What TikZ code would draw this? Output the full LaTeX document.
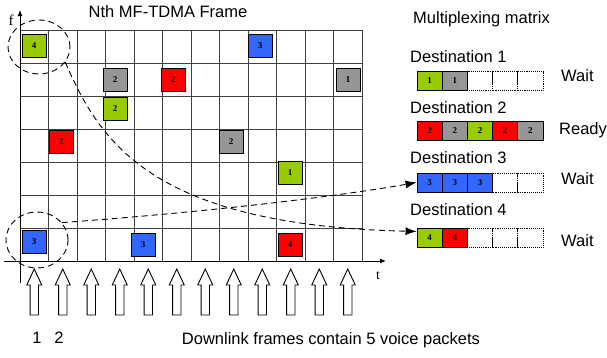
\documentclass[tikz,border=0pt]{standalone}
\usepackage{fontspec}
\setmainfont{Liberation Sans}
\newfontfamily\numfont{Liberation Serif}
\usetikzlibrary{arrows.meta,shapes.geometric}
\definecolor{pgreen}{RGB}{153,204,0}
\definecolor{pgray}{RGB}{150,150,150}
\definecolor{pred}{RGB}{255,0,0}
\definecolor{pblue}{RGB}{51,102,255}

\begin{document}
\begin{tikzpicture}[x=1pt,y=-1pt,
  pkt/.style={draw, line width=0.9pt, minimum width=24pt, minimum height=23pt, inner sep=0pt, font=\numfont\bfseries\fontsize{9}{9}\selectfont},
  buf/.style={draw, line width=0.9pt, minimum width=25.2pt, minimum height=19pt, inner sep=0pt, font=\numfont\bfseries\fontsize{9}{9}\selectfont},
  free/.style={draw, densely dotted, line width=0.9pt, minimum width=25.2pt, minimum height=19pt, inner sep=0pt},
  lbl/.style={font=\fontsize{16.5}{19}\selectfont, inner sep=0pt},
  ring/.style={draw, dash pattern=on 6pt off 4pt, ellipse, line width=0.9pt, inner sep=0pt},
  link/.style={dash pattern=on 6pt off 4pt, line width=0.9pt, -{Latex[length=11pt,width=8pt]}}]
\useasboundingbox (0,0) rectangle (607,357);

% slot grid
\foreach \i in {1,...,12}
  \draw[black!75, line width=0.8pt] ({20+28.5*\i},30) -- ({20+28.5*\i},261);
\foreach \j in {0,...,6}
  \draw[black!75, line width=0.8pt] (20,{30+33*\j}) -- (362,{30+33*\j});
\draw[line width=0.9pt, -{Latex[length=6pt,width=5pt]}] (4,261) -- (386,261);
\draw[line width=0.9pt, -{Latex[length=6pt,width=5pt]}] (20,283) -- (20,10);
\node[font=\numfont\fontsize{15}{15}\selectfont] (f) at (11,20) {f};
\node[font=\numfont\fontsize{14}{14}\selectfont] (t) at (378,276) {t};
\node[lbl] (title) at (168,12) {Nth MF-TDMA Frame};

% packets in the frame
\node[pkt, fill=pgreen] (1) at (34,46) {4};
\node[pkt, fill=pblue] (2) at (260,46) {3};
\node[pkt, fill=pgray] (3) at (115,80) {2};
\node[pkt, fill=pred] (4) at (173,80) {2};
\node[pkt, fill=pgray] (5) at (348,80) {1};
\node[pkt, fill=pgreen] (6) at (115,109) {2};
\node[pkt, fill=pred] (7) at (61,142) {2};
\node[pkt, fill=pgray] (8) at (231,142) {2};
\node[pkt, fill=pgreen] (9) at (290,173) {1};
\node[pkt, fill=pblue] (10) at (34,242) {3};
\node[pkt, fill=pblue] (11) at (143,245) {3};
\node[pkt, fill=pred] (12) at (290,245) {4};

\node[ring, minimum width=62pt, minimum height=54pt] (c1) at (39,47) {};
\node[ring, minimum width=62pt, minimum height=56pt] (c2) at (37,240) {};

% multiplexing matrix
\node[lbl, anchor=west] (mux) at (413,19) {Multiplexing matrix};
\node[lbl, anchor=west] (d1) at (410,57) {Destination 1};
\node[lbl, anchor=west] (d2) at (410,108) {Destination 2};
\node[lbl, anchor=west] (d3) at (410,158) {Destination 3};
\node[lbl, anchor=west] (d4) at (410,210) {Destination 4};

\node[buf, fill=pgreen] (q11) at (429.6,81) {1};
\node[buf, fill=pgray] (q12) at (454.8,81) {1};
\node[free] (q13) at (480,81) {};
\node[free] (q14) at (505.2,81) {};
\node[free] (q15) at (530.4,81) {};

\node[buf, fill=pred] (q21) at (429.6,131) {2};
\node[buf, fill=pgray] (q22) at (454.8,131) {2};
\node[buf, fill=pgreen] (q23) at (480,131) {2};
\node[buf, fill=pred] (q24) at (505.2,131) {2};
\node[buf, fill=pgray] (q25) at (530.4,131) {2};

\node[buf, fill=pblue] (q31) at (429.6,182.5) {3};
\node[buf, fill=pblue] (q32) at (454.8,182.5) {3};
\node[buf, fill=pblue] (q33) at (480,182.5) {3};
\node[free] (q34) at (505.2,182.5) {};
\node[free] (q35) at (530.4,182.5) {};

\node[buf, fill=pgreen] (q41) at (429.6,237.5) {4};
\node[buf, fill=pred] (q42) at (454.8,237.5) {4};
\node[free] (q43) at (480,237.5) {};
\node[free] (q44) at (505.2,237.5) {};
\node[free] (q45) at (530.4,237.5) {};

\node[lbl, anchor=west] (w1) at (561,76) {Wait};
\node[lbl, anchor=west] (w2) at (559,130) {Ready};
\node[lbl, anchor=west] (w3) at (561,179) {Wait};
\node[lbl, anchor=west] (w4) at (561,241) {Wait};

\draw[link] (c2.35) .. controls +(138,-10) and +(-86,15) .. (q31.west);
\draw[link] (c1.-30) .. controls +(34,78) and +(-267,-6) .. (q41.155);

% downlink frames
\foreach \i in {0,...,11} {
  \pgfmathsetmacro{\x}{34.25+28.5*\i}
  \draw[line width=0.9pt] ({\x-4.2},315) -- ({\x-4.2},285) -- ({\x-7.5},285) -- (\x,269)
    -- ({\x+7.5},285) -- ({\x+4.2},285) -- ({\x+4.2},315) -- cycle;
}
\node[lbl] (n1) at (37,338) {1};
\node[lbl] (n2) at (59,338) {2};
\node[lbl] (note) at (331,340) {Downlink frames contain 5 voice packets};
\end{tikzpicture}
\end{document}
